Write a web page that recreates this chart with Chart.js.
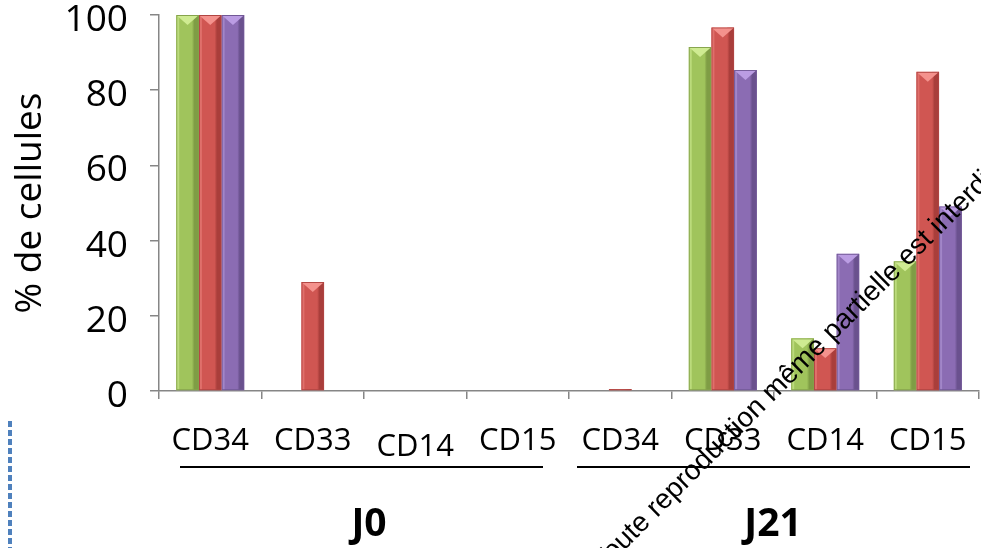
<!DOCTYPE html>
<html>
<head>
<meta charset="utf-8">
<script src="https://cdn.jsdelivr.net/npm/chart.js@4/dist/chart.umd.min.js"></script>
<style>
  html, body { margin: 0; padding: 0; background: #ffffff; }
  #wrap { width: 981px; height: 548px; position: relative; }
</style>
</head>
<body>
<div id="wrap"><canvas id="c" width="981" height="548"></canvas></div>
<script>
// Markers measured on each day
const categories = ['CD34', 'CD33', 'CD14', 'CD15', 'CD34', 'CD33', 'CD14', 'CD15'];
// Day groups: label and number of markers in each
const groupLabels = ['J0', 'J21'];
const groupSizes = [4, 4];
// Percentage of cells for the three conditions
const seriesGreen  = [100, 0, 0, 0, 0, 91.5, 14.0, 34.5];
const seriesRed    = [100, 29, 0, 0, 0.5, 96.7, 11.4, 84.9];
const seriesPurple = [100, 0, 0, 0, 0, 85.4, 36.5, 49.1];
const yTicks = [0, 20, 40, 60, 80, 100];
const yTitle = '% de cellules';
const noticeText = 'Toute reproduction même partielle est interdite';

const FONT = "'Open Sans', 'Noto Sans', 'Liberation Sans', sans-serif";
const AXIS = '#868686';

// Bevelled bar styling for each series
const barStyles = [
  { base: '#a0c45c', light: '#bbdb7c', dark: '#7f9d45', top: '#cfeb92', edge: '#86a34c' },
  { base: '#d05652', light: '#e06f6b', dark: '#a93e3b', top: '#f4928d', edge: '#b04542' },
  { base: '#8b6cb3', light: '#a286c8', dark: '#6a518e', top: '#bb9de3', edge: '#715896' }
];

const bevelPlugin = {
  id: 'bevel',
  afterDatasetsDraw(chart) {
    const ctx = chart.ctx;
    chart.data.datasets.forEach((ds, i) => {
      const st = barStyles[i];
      chart.getDatasetMeta(i).data.forEach(bar => {
        const p = bar.getProps(['x', 'y', 'base', 'width'], true);
        const h = p.base - p.y;
        if (h < 0.4) return;
        const l = p.x - p.width / 2, r = p.x + p.width / 2, w = p.width;
        ctx.save();
        ctx.beginPath();
        ctx.rect(l, p.y, w, h);
        ctx.clip();
        // left highlight strip
        ctx.fillStyle = st.light;
        ctx.fillRect(l, p.y, 3, h);
        // right shaded side
        const g = ctx.createLinearGradient(r - 7, 0, r, 0);
        g.addColorStop(0, st.base);
        g.addColorStop(0.35, st.dark);
        g.addColorStop(1, st.dark);
        ctx.fillStyle = g;
        ctx.fillRect(r - 7, p.y, 7, h);
        // top bevel facet
        const th = Math.min(w * 0.44, h);
        ctx.fillStyle = st.top;
        ctx.beginPath();
        ctx.moveTo(l, p.y);
        ctx.lineTo(r, p.y);
        ctx.lineTo(p.x, p.y + th);
        ctx.closePath();
        ctx.fill();
        // outline
        ctx.strokeStyle = st.edge;
        ctx.lineWidth = 1;
        ctx.strokeRect(l + 0.5, p.y + 0.5, w - 1, h - 1);
        ctx.restore();
      });
    });
  }
};

// Day group underlines and labels below the marker names
const groupPlugin = {
  id: 'groups',
  afterDraw(chart, args, opts) {
    const ctx = chart.ctx;
    const xs = chart.scales.x;
    const half = (xs.getPixelForValue(1) - xs.getPixelForValue(0)) / 2;
    let start = 0;
    groupLabels.forEach((label, gi) => {
      const end = start + groupSizes[gi] - 1;
      const x0 = xs.getPixelForValue(start) - half + opts.insets[gi][0];
      const x1 = xs.getPixelForValue(end) + half - opts.insets[gi][1];
      ctx.save();
      ctx.strokeStyle = '#000';
      ctx.lineWidth = 2;
      ctx.beginPath();
      ctx.moveTo(x0, opts.lineY);
      ctx.lineTo(x1, opts.lineY);
      ctx.stroke();
      ctx.fillStyle = '#000';
      ctx.font = "bold 39px " + FONT;
      ctx.textAlign = 'center';
      ctx.textBaseline = 'alphabetic';
      const cx = (xs.getPixelForValue(start) + xs.getPixelForValue(end)) / 2 + opts.labelShift[gi];
      ctx.fillText(label, cx, opts.labelY);
      ctx.restore();
      start = end + 1;
    });
  }
};

// Slide decorations: dotted margin line and the reproduction notice
const slidePlugin = {
  id: 'slide',
  afterDraw(chart) {
    const ctx = chart.ctx;
    ctx.save();
    ctx.strokeStyle = '#4f81bd';
    ctx.lineWidth = 4;
    ctx.setLineDash([6, 3]);
    ctx.beginPath();
    ctx.moveTo(10, 421);
    ctx.lineTo(10, 548);
    ctx.stroke();
    ctx.restore();

    ctx.save();
    ctx.translate(603, 572);
    ctx.rotate(-45 * Math.PI / 180);
    ctx.fillStyle = '#000';
    ctx.font = "28px 'Liberation Sans', Arial, sans-serif";
    ctx.textBaseline = 'alphabetic';
    ctx.textAlign = 'left';
    ctx.fillText(noticeText, 0, 0);
    ctx.restore();
  }
};

new Chart(document.getElementById('c'), {
  type: 'bar',
  data: {
    labels: categories,
    datasets: [
      { data: seriesGreen,  backgroundColor: barStyles[0].base },
      { data: seriesRed,    backgroundColor: barStyles[1].base },
      { data: seriesPurple, backgroundColor: barStyles[2].base }
    ]
  },
  options: {
    responsive: false,
    animation: false,
    devicePixelRatio: 1,
    layout: { padding: { top: 15, right: 2, left: 0, bottom: 0 } },
    datasets: { bar: { categoryPercentage: 0.664, barPercentage: 1.0 } },
    plugins: {
      legend: { display: false },
      tooltip: { enabled: false },
      groups: { lineY: 467, labelY: 536, insets: [[21, 26], [8, 9]], labelShift: [5, -1] }
    },
    scales: {
      x: {
        offset: true,
        grid: { offset: true, drawOnChartArea: false, tickLength: 8, color: AXIS, lineWidth: 1.5 },
        border: { color: AXIS, width: 1.5 },
        ticks: {
          color: '#000',
          autoSkip: false,
          maxRotation: 0,
          padding: 24,
          font: ctx => ({ family: FONT, size: 31, lineHeight: ctx.index === 2 ? 1.55 : 1.2 })
        },
        afterFit: s => { s.height = 157; s.paddingLeft = 0; s.paddingRight = 0; }
      },
      y: {
        min: 0,
        max: 100,
        afterBuildTicks: s => { s.ticks = yTicks.map(v => ({ value: v })); },
        grid: { drawOnChartArea: false, tickLength: 9, color: AXIS, lineWidth: 1.5 },
        border: { color: AXIS, width: 1.5 },
        ticks: {
          color: '#000',
          padding: 22,
          // an empty leading line sits each number a little below its tick
          callback: v => ['', String(v)],
          font: { family: FONT, size: 37, lineHeight: '11px' }
        },
        title: { display: true, text: yTitle, color: '#000', font: { family: FONT, size: 37 }, padding: { top: 8, bottom: 0 } },
        afterFit: s => { s.width = 159; s.paddingTop = 0; s.paddingBottom = 0; }
      }
    }
  },
  plugins: [bevelPlugin, groupPlugin, slidePlugin]
});
</script>
</body>
</html>
